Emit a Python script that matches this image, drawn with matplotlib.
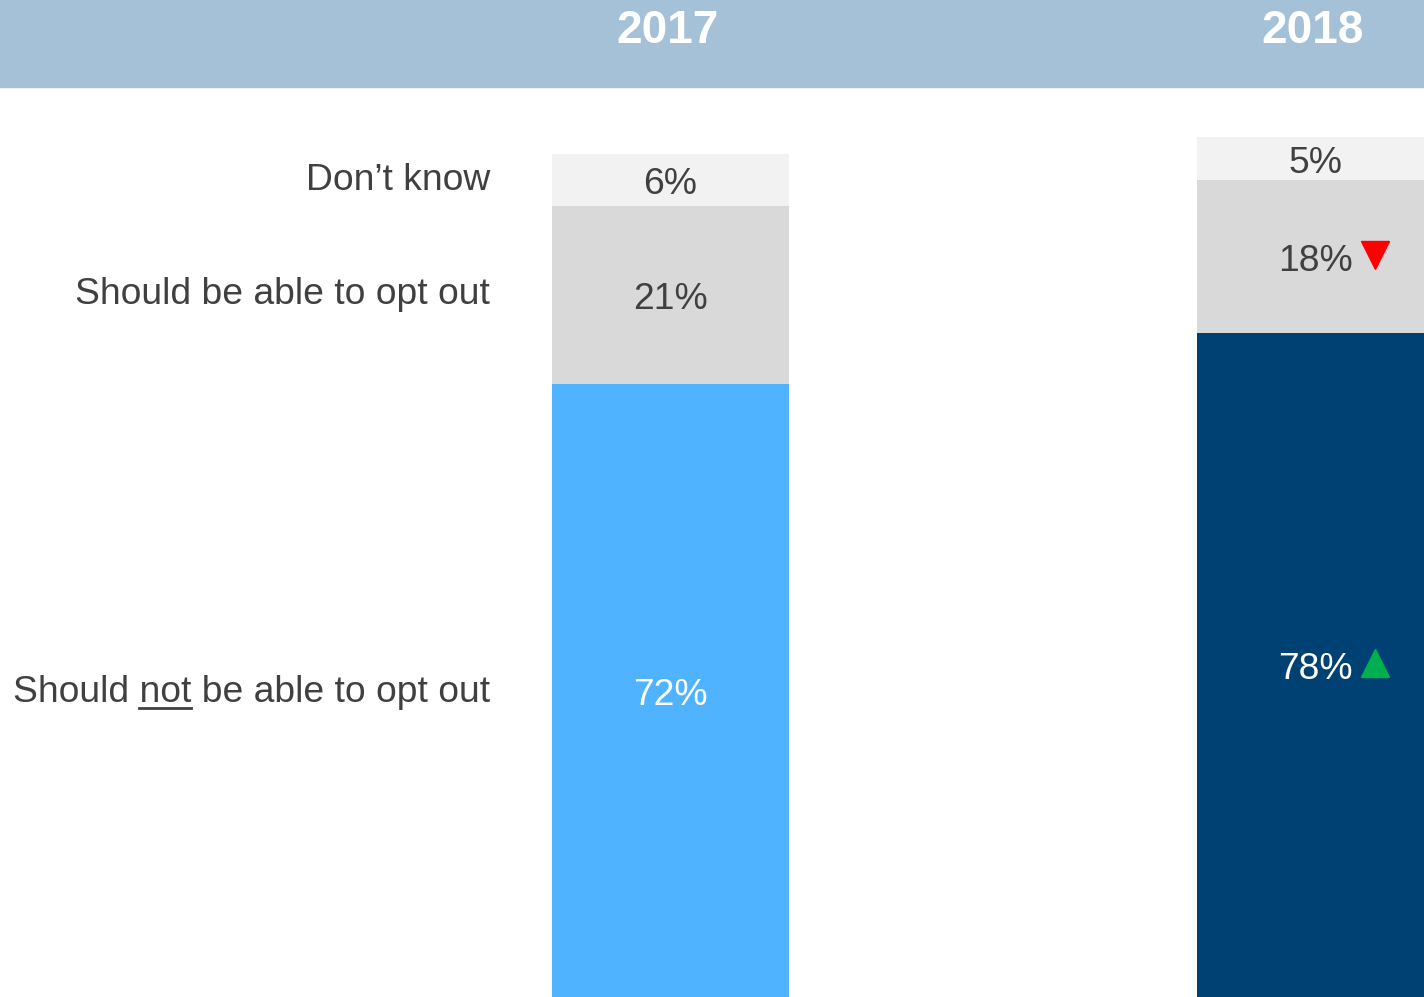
import matplotlib
matplotlib.use('Agg')
import matplotlib.pyplot as plt
from matplotlib.patches import Rectangle

plt.rcParams['font.family'] = ['Liberation Sans', 'DejaVu Sans']

# Survey shares by year, stacked bottom to top
years = ['2017', '2018']
should_not = [72, 78]
should = [21, 18]
dont_know = [6, 5]
labels = ['Should not be able to opt out', 'Should be able to opt out', 'Don\u2019t know']

text_col = '#404040'
fig = plt.figure(figsize=(14.24, 9.97), dpi=100)
ax = fig.add_axes([0, 0, 1, 1])
ax.set_xlim(-1.0395, 1.168)
ax.set_ylim(0, 117.15)
ax.axis('off')

x = [0, 1]
w = 0.367
bottom2 = [a + b for a, b in zip(should_not, should)]
ax.bar(x, should_not, width=w, color=['#4FB3FF', '#004173'], linewidth=0)
ax.bar(x, should, width=w, bottom=should_not, color='#D9D9D9', linewidth=0)
ax.bar(x, dont_know, width=w, bottom=bottom2, color='#F2F2F2', linewidth=0)

fs = 26.8
dy = -0.55  # nudge value labels so the digits sit centred
for i in range(2):
    ax.text(x[i], should_not[i] / 2 + dy, f'{should_not[i]}%', ha='center', va='center',
            fontsize=fs, color='white')
    ax.text(x[i], should_not[i] + should[i] / 2 + dy, f'{should[i]}%', ha='center',
            va='center', fontsize=fs, color=text_col)
    ax.text(x[i], bottom2[i] + dont_know[i] / 2 + dy, f'{dont_know[i]}%', ha='center',
            va='center', fontsize=fs, color=text_col)

# arrows next to the 2018 values
ax.plot(x[1] + 0.092, should_not[1] / 2 + 0.3, marker='^', markersize=20,
        color='#00B050', linestyle='none')
ax.plot(x[1] + 0.092, should_not[1] + should[1] / 2 + 0.2, marker='v', markersize=20,
        color='#FF0000', linestyle='none')

# row labels on the left, aligned with the 2017 segments
lx = -0.28
ax.text(lx, bottom2[0] + dont_know[0] / 2 - 0.1, labels[2], ha='right', va='center',
        fontsize=fs, color=text_col)
ax.text(lx, should_not[0] + should[0] / 2, labels[1], ha='right', va='center',
        fontsize=fs, color=text_col)
t = ax.text(lx, should_not[0] / 2 - 0.2, labels[0], ha='right', va='center',
            fontsize=fs, color=text_col)

# underline "not"
fig.canvas.draw()
r = fig.canvas.get_renderer()
bb = t.get_window_extent(r)
tmp1 = ax.text(0, 0, 'Should not', fontsize=fs)
tmp2 = ax.text(0, 0, 'not', fontsize=fs)
w1 = tmp1.get_window_extent(r).width
w2 = tmp2.get_window_extent(r).width
tmp1.remove()
tmp2.remove()
H = fig.get_size_inches()[1] * fig.dpi
uy = (H - 708) / H
fig.add_artist(plt.Line2D([(bb.x0 + w1 - w2) / fig.bbox.width, (bb.x0 + w1) / fig.bbox.width],
                          [uy, uy], color=text_col, linewidth=2))

# header band with years
band_h = 87 / 997
fig.add_artist(Rectangle((0, 1 - band_h), 1, band_h, transform=fig.transFigure,
                         color='#A4C1D7', zorder=0))
for i, yr in enumerate(years):
    xd = ax.transData.transform((x[i], 0))[0] / fig.bbox.width
    fig.text(xd - 0.002, 1 - 31 / 997, yr, ha='center', va='center', fontsize=33,
             fontweight='bold', color='white')

fig.savefig('out.png', dpi=100)
